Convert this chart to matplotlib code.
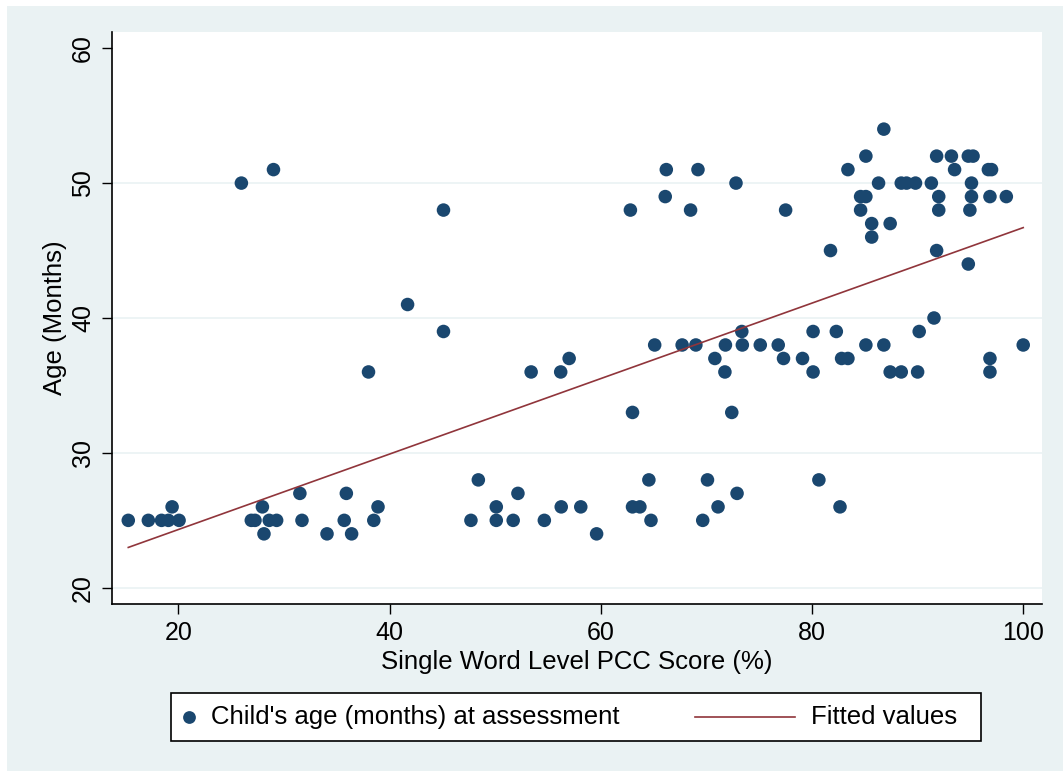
import numpy as np
import matplotlib.pyplot as plt
from matplotlib.patches import Rectangle
from matplotlib.lines import Line2D

plt.rcParams['font.family'] = ['Liberation Sans', 'DejaVu Sans']

# PCC score (%) and child's age (months) for each assessed child
pcc_score = [15.25, 17.15, 18.4, 19.05, 19.4, 20.06, 25.96, 26.9, 27.25, 27.95,
             28.1, 28.6, 29.0, 29.3, 31.5, 31.7, 34.07, 35.7, 35.9, 36.4,
             38.0, 38.5, 38.9, 41.7, 45.1, 45.1, 47.7, 48.4, 50.1, 50.1,
             51.7, 52.15, 53.4, 54.65, 56.2, 56.25, 57.0, 58.1, 59.6, 62.8,
             63.0, 63.0, 63.7, 64.55, 64.75, 65.1, 66.2, 66.1, 67.7, 68.5,
             69.0, 69.2, 69.65, 70.1, 70.8, 71.1, 71.8, 71.75, 72.4, 72.8,
             72.9, 73.35, 73.4, 75.1, 76.8, 77.3, 77.5, 79.1, 80.1, 80.1,
             80.65, 81.75, 82.3, 82.65, 82.8, 83.4, 83.4, 84.6, 84.6, 85.1,
             85.1, 85.1, 85.65, 85.65, 86.3, 86.8, 86.8, 87.4, 87.4, 88.45,
             88.45, 88.95, 89.8, 90.0, 90.15, 91.3, 91.55, 91.8, 92.0, 92.0,
             91.8, 93.2, 93.5, 94.8, 95.25, 95.1, 95.1, 94.95, 94.8, 96.7,
             97.0, 96.85, 96.85, 96.85, 98.4, 100.0]
age_months = [25, 25, 25, 25, 26, 25, 50, 25, 25, 26,
              24, 25, 51, 25, 27, 25, 24, 25, 27, 24,
              36, 25, 26, 41, 48, 39, 25, 28, 26, 25,
              25, 27, 36, 25, 36, 26, 37, 26, 24, 48,
              33, 26, 26, 28, 25, 38, 51, 49, 38, 48,
              38, 51, 25, 28, 37, 26, 38, 36, 33, 50,
              27, 39, 38, 38, 38, 37, 48, 37, 39, 36,
              28, 45, 39, 26, 37, 37, 51, 49, 48, 52,
              49, 38, 47, 46, 50, 54, 38, 47, 36, 36,
              50, 50, 50, 36, 39, 50, 40, 52, 49, 48,
              45, 52, 51, 52, 52, 50, 49, 48, 44, 51,
              51, 49, 37, 36, 49, 38]

x_ticks = [20, 40, 60, 80, 100]
y_ticks = [20, 30, 40, 50, 60]

navy = '#1a476f'
maroon = '#90353b'
bg = '#eaf2f3'

W, H = 1063, 771
fig = plt.figure(figsize=(W / 100, H / 100), dpi=100, facecolor='white')
fig.add_artist(Rectangle((7 / W, 0), 1, (H - 6) / H, transform=fig.transFigure,
                         facecolor=bg, edgecolor='none', zorder=-10))

ax = fig.add_axes([111.7 / W, (H - 604) / H, (1041.7 - 111.7) / W, (604 - 32) / H])
ax.set_facecolor('white')

x = np.array(pcc_score)
y = np.array(age_months)
slope, intercept = np.polyfit(x, y, 1)
xf = np.array([x.min(), x.max()])

for g in y_ticks[:-1]:
    ax.axhline(g, color=bg, lw=1.2, zorder=0)

ax.scatter(x, y, s=95, color=navy, edgecolors='none', zorder=3)
ax.plot(xf, intercept + slope * xf, color=maroon, lw=1.2, zorder=4)

ax.set_xlim(13.68, 101.75)
ax.set_ylim(18.8, 61.2)
ax.set_xticks(x_ticks)
ax.set_yticks(y_ticks)
ax.tick_params(axis='both', length=7, width=1, color='black', labelsize=18, pad=5)
for lbl in ax.get_yticklabels():
    lbl.set_rotation(90)
    lbl.set_va('center')

for side in ('top', 'right'):
    ax.spines[side].set_visible(False)
for side in ('left', 'bottom'):
    ax.spines[side].set_linewidth(1.2)

ax.set_xlabel('Single Word Level PCC Score (%)', fontsize=18.5, labelpad=4)
ax.set_ylabel('Age (Months)', fontsize=18.5, labelpad=3)

# legend box under the plot
def fx(px):
    return px / W

def fy(py):
    return (H - py) / H

fig.add_artist(Rectangle((fx(171), fy(741)), fx(981) - fx(171), fy(692.7) - fy(741),
                         transform=fig.transFigure, facecolor='white',
                         edgecolor='black', lw=1.2))
ly = fy(717)
fig.add_artist(Line2D([fx(188.5)], [ly], marker='o', markersize=9.2, color=navy,
                      markeredgewidth=0, transform=fig.transFigure))
fig.text(fx(211), ly, "Child's age (months) at assessment", fontsize=18.5,
         va='center', ha='left')
fig.add_artist(Line2D([fx(695), fx(795)], [ly, ly], color=maroon, lw=1.2,
                      transform=fig.transFigure))
fig.text(fx(811), ly, 'Fitted values', fontsize=18.5, va='center', ha='left')

fig.savefig('out.png', dpi=100, facecolor=fig.get_facecolor())
